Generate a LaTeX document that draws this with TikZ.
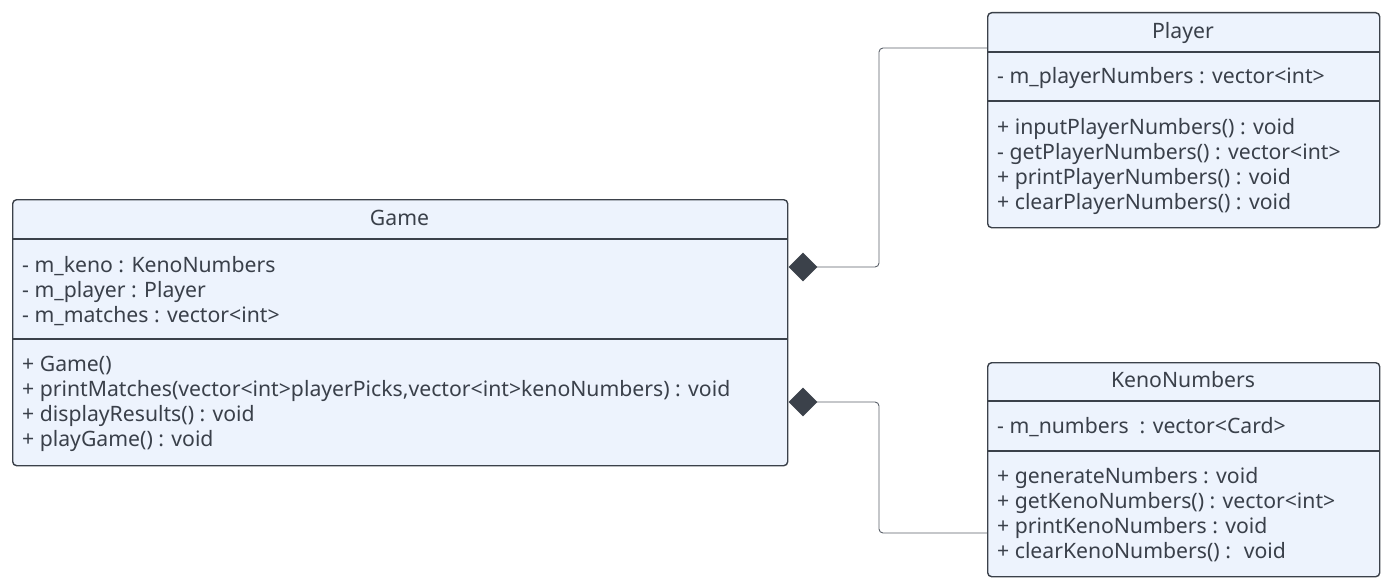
\documentclass[tikz,border=0pt]{standalone}
\usepackage{fontspec}
\setmainfont{Noto Sans}
\usetikzlibrary{shapes.geometric}
\definecolor{boxfill}{HTML}{EDF3FD}
\definecolor{boxline}{HTML}{3B414A}
\definecolor{txtcol}{HTML}{3A404A}
\definecolor{conncol}{HTML}{5A6069}
\tikzset{
  classbox/.style={draw=boxline, fill=boxfill, line width=1.4pt, rounded corners=4pt, anchor=north west, inner sep=0pt},
  divline/.style={draw=boxline, line width=1.4pt},
  member/.style={anchor=mid west, inner sep=0pt, text=txtcol, font=\fontsize{21.2}{22}\selectfont},
  title/.style={anchor=mid, inner sep=0pt, text=txtcol, font=\fontsize{21.2}{22}\selectfont},
  compo/.style={diamond, fill=boxline, draw=none, minimum width=29pt, minimum height=29pt, inner sep=0pt},
  conn/.style={draw=conncol, line width=0.9pt, rounded corners=4pt}
}
\begin{document}
\begin{tikzpicture}[x=1pt, y=-1pt]
\useasboundingbox (0,0) rectangle (1391,580);
% Game
\node[classbox, minimum width=775pt, minimum height=266pt] (game) at (12,199) {};
\draw[divline] (12,239) -- (787,239);
\draw[divline] (12,339) -- (787,339);
\node[title] (gameT) at (399.5,223) {Game};
\node[member] (g1) at (22,270) {- m\_keno : KenoNumbers};
\node[member] (g2) at (22,295) {- m\_player : Player};
\node[member] (g3) at (22,320) {- m\_matches : vector<int>};
\node[member] (g4) at (22,369) {+ Game()};
\node[member] (g5) at (22,394) {+ printMatches(vector<int>playerPicks,vector<int>kenoNumbers) : void};
\node[member] (g6) at (22,419) {+ displayResults() : void};
\node[member] (g7) at (22,444) {+ playGame() : void};
% Player
\node[classbox, minimum width=392pt, minimum height=215pt] (player) at (987,12) {};
\draw[divline] (987,52) -- (1379,52);
\draw[divline] (987,101) -- (1379,101);
\node[title] (playerT) at (1183,36) {Player};
\node[member] (p1) at (997,81) {- m\_playerNumbers : vector<int>};
\node[member] (p2) at (997,132) {+ inputPlayerNumbers() : void};
\node[member] (p3) at (997,157) {- getPlayerNumbers() : vector<int>};
\node[member] (p4) at (997,182) {+ printPlayerNumbers() : void};
\node[member] (p5) at (997,207) {+ clearPlayerNumbers() : void};
% KenoNumbers
\node[classbox, minimum width=392pt, minimum height=214pt] (keno) at (987,362) {};
\draw[divline] (987,401) -- (1379,401);
\draw[divline] (987,451) -- (1379,451);
\node[title] (kenoT) at (1183,385) {KenoNumbers};
\node[member] (k1) at (997,431) {- m\_numbers \ : vector<Card>};
\node[member] (k2) at (997,481) {+ generateNumbers : void};
\node[member] (k3) at (997,506) {+ getKenoNumbers() : vector<int>};
\node[member] (k4) at (997,531) {+ printKenoNumbers : void};
\node[member] (k5) at (997,556) {+ clearKenoNumbers() : \ void};
% connectors
\coordinate (b1) at (879,48);
\coordinate (b2) at (879,533);
\draw[conn] (803,267) -- (b1 |- 0,267) -- (b1) -- (player.west |- b1);
\draw[conn] (803,402) -- (b2 |- 0,402) -- (b2) -- (keno.west |- b2);
\node[compo] (d1) at (803,267) {};
\node[compo] (d2) at (803,402) {};
\end{tikzpicture}
\end{document}
